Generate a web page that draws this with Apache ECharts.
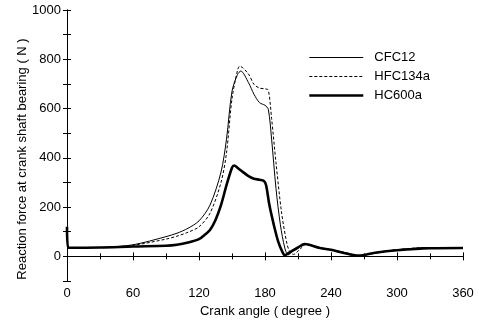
<!DOCTYPE html>
<html>
<head>
<meta charset="utf-8">
<script src="https://cdn.jsdelivr.net/npm/echarts@6/dist/echarts.min.js"></script>
<style>html,body{margin:0;padding:0;background:#fff;}#c{width:479px;height:323px;}</style>
</head>
<body>
<div id="c"></div>
<script>
const xTicks = [0, 60, 120, 180, 240, 300, 360];
const yTicks = [0, 200, 400, 600, 800, 1000];

const cfcAngle = [0, 30, 60, 90, 100, 110, 120, 130, 140, 145, 150, 155, 158, 165, 170, 175, 180, 183, 186, 190, 194, 198, 201, 205, 210, 218, 225, 240, 255, 265, 280, 300, 330, 360];
const cfcForce = [35, 36, 47, 80, 94, 114, 144, 208, 342, 476, 670, 738, 752, 705, 658, 624, 613, 597, 476, 275, 128, 34, 6, 20, 34, 50, 40, 27, 13, 3, 13, 27, 36, 34];

const hfcAngle = [0, 30, 60, 90, 100, 110, 120, 130, 140, 145, 150, 155, 157, 165, 170, 175, 180, 183, 186, 190, 195, 200, 203, 206, 212, 218, 225, 240, 255, 265, 280, 300, 330, 360];
const hfcForce = [35, 36, 45, 70, 82, 98, 120, 175, 300, 420, 640, 755, 772, 740, 698, 683, 680, 675, 560, 380, 180, 50, 15, 8, 30, 50, 40, 27, 13, 3, 13, 27, 36, 34];

const hcAngle = [0, 1, 30, 60, 90, 100, 110, 120, 125, 130, 135, 140, 145, 150, 152, 155, 160, 165, 170, 175, 179, 181, 184, 188, 192, 196, 198, 200, 205, 210, 216, 220, 230, 240, 250, 265, 280, 300, 330, 360];
const hcForce = [120, 35, 36, 40, 43, 47, 56, 70, 87, 107, 148, 208, 289, 360, 369, 360, 342, 326, 315, 311, 306, 289, 208, 128, 60, 16, 4, 9, 23, 36, 50, 47, 34, 27, 16, 3, 15, 25, 33, 34];

const zip = (a, b) => a.map((v, i) => [v, b[i]]);
const font = 'Liberation Sans, Arial, sans-serif';

const chart = echarts.init(document.getElementById('c'));
const axisLine = {show: true, lineStyle: {color: '#000', width: 1}};
chart.setOption({
  animation: false,
  backgroundColor: '#fff',
  grid: {left: 67, right: 16, top: 10, bottom: 40},
  legend: {
    orient: 'vertical', left: 303, top: 46,
    itemWidth: 54, itemHeight: 12, itemGap: 6,
    itemStyle: {opacity: 0},
    textStyle: {fontFamily: font, fontSize: 13, color: '#000', padding: [0, 0, 0, 6]},
    data: [
      {name: 'CFC12', lineStyle: {width: 1, color: '#000'}},
      {name: 'HFC134a', lineStyle: {width: 1, color: '#000', type: [3, 2]}},
      {name: 'HC600a', lineStyle: {width: 2.6, color: '#000'}}
    ]
  },
  graphic: [{
    type: 'text', x: 22, y: 159, rotation: Math.PI / 2,
    style: {text: 'Reaction force at crank shaft bearing ( N )', font: '13px ' + font, fill: '#000',
      textAlign: 'center', textVerticalAlign: 'middle'}
  }],
  xAxis: [{
    type: 'value', min: 0, max: 360, interval: 60,
    name: 'Crank angle ( degree )', nameLocation: 'middle', nameGap: 24,
    nameTextStyle: {fontFamily: font, fontSize: 13, color: '#000'},
    axisLine: axisLine,
    axisTick: {inside: true, length: 4, lineStyle: {color: '#000'}},
    minorTick: {show: true, splitNumber: 2, length: 3, lineStyle: {color: '#000'}},
    axisLabel: {fontFamily: font, fontSize: 13, color: '#000', margin: 6,
      formatter: v => xTicks.includes(v) ? String(v) : ''},
    splitLine: {show: false}
  }, {
    type: 'value', min: 0, max: 360, interval: 60, position: 'top',
    axisLine: axisLine,
    axisTick: {inside: true, length: 4, lineStyle: {color: '#000'}},
    minorTick: {show: true, splitNumber: 2, length: 3, lineStyle: {color: '#000'}},
    axisLabel: {show: false}, splitLine: {show: false}
  }],
  yAxis: [{
    type: 'value', min: -100, max: 1000, interval: 100,
    axisLine: axisLine,
    axisTick: {inside: true, length: 4, lineStyle: {color: '#000'}},
    axisLabel: {fontFamily: font, fontSize: 13, color: '#000', margin: 6,
      formatter: v => yTicks.includes(v) ? String(v) : ''},
    splitLine: {show: false}
  }, {
    type: 'value', min: -100, max: 1000, interval: 100, position: 'right',
    axisLine: axisLine,
    axisTick: {inside: true, length: 4, lineStyle: {color: '#000'}},
    axisLabel: {show: false}, splitLine: {show: false}
  }],
  series: [
    {name: 'CFC12', type: 'line', data: zip(cfcAngle, cfcForce), smooth: 0.3, symbol: 'none',
      color: '#000', lineStyle: {color: '#000', width: 1}},
    {name: 'HFC134a', type: 'line', data: zip(hfcAngle, hfcForce), smooth: 0.3, symbol: 'none',
      color: '#000', lineStyle: {color: '#000', width: 1, type: [3, 2]}},
    {name: 'HC600a', type: 'line', data: zip(hcAngle, hcForce), smooth: 0.3, symbol: 'none',
      color: '#000', lineStyle: {color: '#000', width: 2.6}}
  ]
});
</script>
</body>
</html>
